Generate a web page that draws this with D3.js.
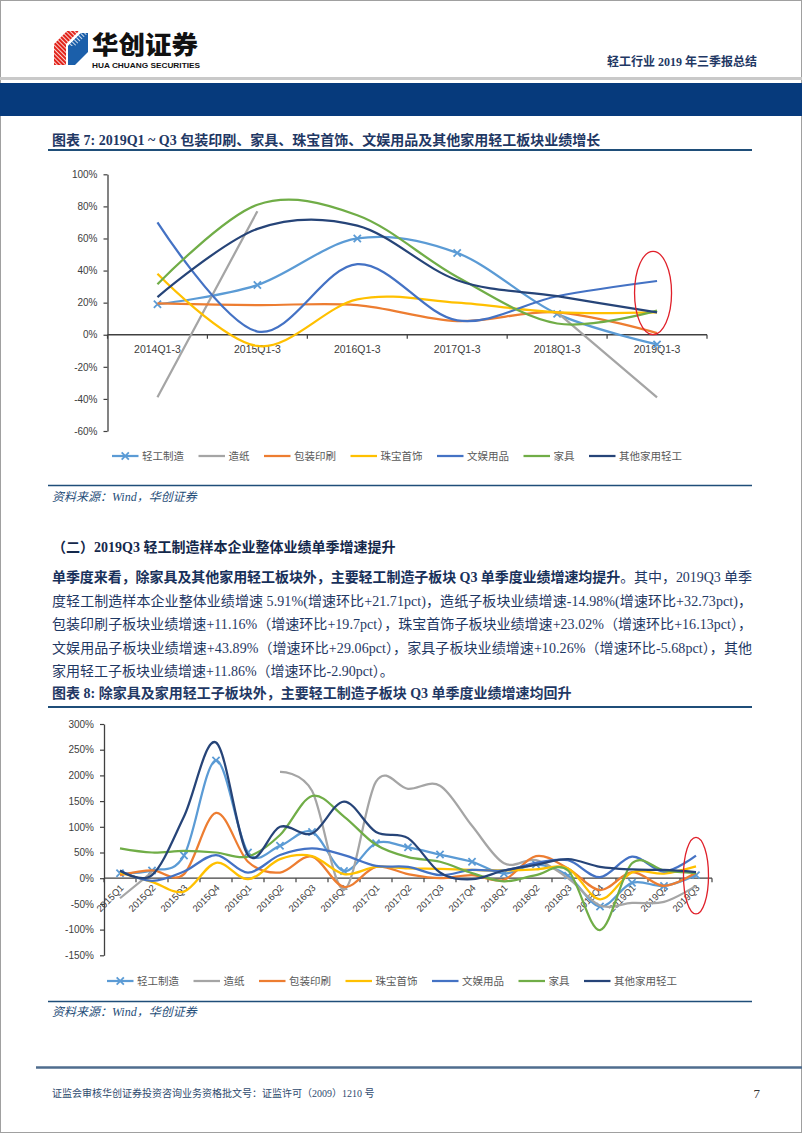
<!DOCTYPE html>
<html><head><meta charset="utf-8">
<script src="https://cdn.jsdelivr.net/npm/d3@7"></script>
<style>body{margin:0;background:#fff}svg{display:block}</style>
</head><body>
<svg id="page" width="802" height="1133"></svg>
<script>
// ---------------- DATA ----------------
const seriesNames = ["轻工制造","造纸","包装印刷","珠宝首饰","文娱用品","家具","其他家用轻工"];
const seriesColors = ["#5B9BD5","#A5A5A5","#ED7D31","#FFC000","#4472C4","#70AD47","#264478"];

// Chart 7: 2014–2019 Q1-3 cumulative growth (%)
const cats1 = ["2014Q1-3","2015Q1-3","2016Q1-3","2017Q1-3","2018Q1-3","2019Q1-3"];
const c1_qgzz = [19, 31, 60, 51, 13, -6];
const c1_zz   = [-39, 77, null, null, 14, -39];
const c1_bzys = [19.5, 18.5, 18.5, 8.5, 14, 1];
const c1_zbsh = [38, -7, 22, 20, 14, 14];
const c1_wyyp = [70, 2, 44, 9, 24, 33.5];
const c1_jj   = [31.5, 81, 74.5, 36, 7, 15];
const c1_qt   = [23.5, 66, 68, 34, 24, 14];
const yTicks1 = [-60,-40,-20,0,20,40,60,80,100];

// Chart 8: single-quarter growth (%)
const cats2 = ["2015Q1","2015Q2","2015Q3","2015Q4","2016Q1","2016Q2","2016Q3","2016Q4",
               "2017Q1","2017Q2","2017Q3","2017Q4","2018Q1","2018Q2","2018Q3","2018Q4",
               "2019Q1","2019Q2","2019Q3"];
const c2_qgzz = [9.5, 15, 44, 229, 50, 63, 90, 14, 68, 60, 46, 32, 9, 27, 5, -55, -9, -15, 6];
const c2_zz   = [-39, 12, null, null, null, 207, 170, -22, 188, 174, 180, 102, 29, 35, 0, -53, -48, -46, -15];
const c2_bzys = [6, 15, 8, 127, 32, 11, 42, -17, 22, 8, 0, 6, -3, 43, 19, -23, 12, -15, 11];
const c2_zbsh = [11, -7, -26, 30, -2, 37, 43, 8, 22, 19, 18, 16, 15, 17, 19, -41, 11, 9, 23];
const c2_wyyp = [14, -5, 13, 45, 11, 45, 58, 45, 24, 22, 6, 16, 15, 30, 35, 2, 42, 13, 44];
const c2_jj   = [58, 50, 53, 50, 42, 84, 160, 120, 65, 41, 32, 10, -6, 6, 15, -101, 29, 15, 10];
const c2_qt   = [15, 6, 120, 264, 45, 100, 87, 149, 90, 78, 11, -2, 15, 26, 37, 22, 17, 16, 12];
const yTicks2 = [-150,-100,-50,0,50,100,150,200,250,300];

// ---------------- RENDER ----------------
const svg = d3.select("#page");
const CJK = "'Noto Sans CJK SC'";
const SERIF = "'Liberation Serif','Noto Sans CJK SC'";
const SANS = "'Liberation Sans','Noto Sans CJK SC'";
const NAVY = "#1F3864";

svg.append("rect").attr("x",0.5).attr("y",0.5).attr("width",801).attr("height",1132)
  .attr("fill","#fff").attr("stroke","#a0a0a0").attr("stroke-width",1);

// ---- header / logo ----
const defs = svg.append("defs");
const pr = defs.append("pattern").attr("id","stripeR").attr("patternUnits","userSpaceOnUse")
  .attr("width",3).attr("height",3).attr("patternTransform","rotate(-45)");
pr.append("rect").attr("width",3).attr("height",3).attr("fill","#E2231A");
pr.append("rect").attr("width",0.8).attr("height",3).attr("fill","#fff");
const pb = defs.append("pattern").attr("id","stripeB").attr("patternUnits","userSpaceOnUse")
  .attr("width",3).attr("height",3).attr("patternTransform","rotate(-45)");
pb.append("rect").attr("width",3).attr("height",3).attr("fill","#1B5FAA");
pb.append("rect").attr("width",0.8).attr("height",3).attr("fill","#fff");
const logo = svg.append("g");
logo.append("polygon").attr("points","54,44 67,31 79,31 66,44 66,65 54,65").attr("fill","url(#stripeR)");
logo.append("polygon").attr("points","68,46 81,33 88,33 88,52 75,65 68,65").attr("fill","#1B5FAA");
logo.append("polygon").attr("points","68,46 81,33 88,33 75,46").attr("fill","url(#stripeB)");
logo.append("text").attr("x",92).attr("y",54).attr("font-family",CJK).attr("font-weight",900)
  .attr("font-size",25).attr("fill","#111").attr("textLength",106).attr("lengthAdjust","spacingAndGlyphs")
  .text("华创证券");
logo.append("text").attr("x",92).attr("y",68).attr("font-family","'Liberation Sans Narrow','Liberation Sans'")
  .attr("font-weight",700).attr("font-size",7).attr("fill","#111")
  .attr("textLength",108).attr("lengthAdjust","spacingAndGlyphs").text("HUA CHUANG SECURITIES");
svg.append("text").attr("x",757).attr("y",66).attr("text-anchor","end").attr("font-family",SERIF)
  .attr("font-weight",700).attr("font-size",12).attr("fill",NAVY).text("轻工行业 2019 年三季报总结");
svg.append("rect").attr("x",0).attr("y",77).attr("width",802).attr("height",3).attr("fill","#c9c9c9");
svg.append("rect").attr("x",0).attr("y",83).attr("width",802).attr("height",33).attr("fill","#063A7C");

// ---- helpers ----
function title(txt, yb, yl){
  svg.append("text").attr("x",52).attr("y",yb).attr("font-family",SERIF).attr("font-weight",700)
    .attr("font-size",14).attr("fill",NAVY).text(txt);
  svg.append("line").attr("x1",48).attr("x2",752).attr("y1",yl).attr("y2",yl)
    .attr("stroke","#1F4E79").attr("stroke-width",2);
}
function source(yl, yb){
  svg.append("line").attr("x1",48).attr("x2",752).attr("y1",yl).attr("y2",yl)
    .attr("stroke","#1F4E79").attr("stroke-width",1.6);
  svg.append("text").attr("x",52).attr("y",yb).attr("font-family",SERIF).attr("font-style","italic")
    .attr("font-size",12).attr("fill","#1F4E79").text("资料来源：Wind，华创证券");
}
function marker(g, cx, cy, col){
  const s = 3.6;
  g.append("path").attr("d",`M${cx-s},${cy-s}L${cx+s},${cy+s}M${cx-s},${cy+s}L${cx+s},${cy-s}`)
    .attr("stroke",col).attr("stroke-width",1.8).attr("fill","none");
}
function legend(yc, startX){
  const g = svg.append("g");
  let x0 = startX;
  seriesNames.forEach((n,i)=>{
    g.append("line").attr("x1",x0).attr("x2",x0+26.5).attr("y1",yc).attr("y2",yc)
      .attr("stroke",seriesColors[i]).attr("stroke-width",2.25);
    if(i===0) marker(g, x0+13.25, yc, seriesColors[0]);
    const t = g.append("text").attr("x",x0+30).attr("y",yc+3.8).attr("font-family",CJK)
      .attr("font-size",10.5).attr("fill","#595959").text(n);
    x0 += 30 + t.node().getComputedTextLength() + 14.5;
  });
}
function drawChart(opt){
  const g = svg.append("g");
  const x = d3.scaleBand().domain(opt.cats).range(opt.xRange);
  const y = d3.scaleLinear().domain(opt.yDomain).range(opt.yRange);
  const bw = x.bandwidth();
  const ya = g.append("g").attr("transform",`translate(${opt.xRange[0]},0)`)
    .call(d3.axisLeft(y).tickValues(opt.yTicks).tickFormat(d=>d+"%").tickSize(4).tickSizeOuter(0).tickPadding(6));
  ya.select(".domain").attr("stroke","#404040").attr("stroke-width",1.3);
  ya.selectAll(".tick line").attr("stroke","#404040").attr("stroke-width",1.2);
  ya.selectAll("text").attr("font-family",SANS).attr("font-size",10).attr("fill","#404040");
  const y0 = y(0);
  g.append("line").attr("x1",opt.xRange[0]).attr("x2",opt.xRange[1]).attr("y1",y0).attr("y2",y0)
    .attr("stroke","#404040").attr("stroke-width",1.3);
  const bounds = opt.cats.map(c=>x(c)).concat([x(opt.cats[opt.cats.length-1])+bw]);
  g.selectAll(".xt").data(bounds).join("line").attr("x1",d=>d).attr("x2",d=>d)
    .attr("y1",y0).attr("y2",y0+4).attr("stroke","#404040").attr("stroke-width",1.2);
  const lab = g.selectAll(".xl").data(opt.cats).join("text")
    .attr("font-family",SANS).attr("font-size",opt.labelSize).attr("fill","#404040").text(d=>d);
  if(opt.rotate){
    lab.attr("text-anchor","end").attr("dy","0.35em")
      .attr("transform",d=>`translate(${x(d)+bw/2+2},${y0+8}) rotate(-45)`);
  } else {
    lab.attr("text-anchor","middle").attr("x",d=>x(d)+bw/2).attr("y",y0+18.5);
  }
  const line = d3.line().defined(d=>d[1]!=null).x(d=>x(d[0])+bw/2).y(d=>y(d[1]))
    .curve(d3.curveCardinal.tension(0));
  opt.series.forEach((s,i)=>{
    g.append("path").datum(opt.cats.map((c,j)=>[c,s[j]])).attr("d",line)
      .attr("fill","none").attr("stroke",seriesColors[i]).attr("stroke-width",2.25)
      .attr("stroke-linejoin","round");
    if(i===0){
      opt.cats.forEach((c,j)=>{ if(s[j]!=null) marker(g, x(c)+bw/2, y(s[j]), seriesColors[0]); });
    }
  });
  const e = opt.ellipse;
  g.append("ellipse").attr("cx",x(e.cat)+bw/2+e.dx).attr("cy",y(e.value)).attr("rx",e.rx).attr("ry",e.ry)
    .attr("fill","none").attr("stroke","#E0202A").attr("stroke-width",1.3);
}

// ---- Chart 7 ----
title("图表 7: 2019Q1 ~ Q3 包装印刷、家具、珠宝首饰、文娱用品及其他家用轻工板块业绩增长", 145, 150);
drawChart({cats:cats1, series:[c1_qgzz,c1_zz,c1_bzys,c1_zbsh,c1_wyyp,c1_jj,c1_qt],
  xRange:[107.5,707], yDomain:[-60,100], yRange:[431,174.3], yTicks:yTicks1,
  labelSize:10.5, rotate:false, ellipse:{cat:"2019Q1-3", value:26, rx:18.5, ry:41.7, dx:-4}});
legend(456, 112);
source(485.5, 501);

// ---- Body text ----
svg.append("text").attr("x",52).attr("y",552).attr("font-family",SERIF).attr("font-weight",700)
  .attr("font-size",14).attr("fill","#14284B").text("（二）2019Q3 轻工制造样本企业整体业绩单季增速提升");
const para = [
  [["单季度来看，除家具及其他家用轻工板块外，主要轻工制造子板块 Q3 单季度业绩增速均提升",true],["。其中，2019Q3 单季",false]],
  [["度轻工制造样本企业整体业绩增速 5.91%(增速环比+21.71pct)，造纸子板块业绩增速-14.98%(增速环比+32.73pct)，",false]],
  [["包装印刷子板块业绩增速+11.16%（增速环比+19.7pct），珠宝首饰子板块业绩增速+23.02%（增速环比+16.13pct），",false]],
  [["文娱用品子板块业绩增速+43.89%（增速环比+29.06pct），家具子板块业绩增速+10.26%（增速环比-5.68pct），其他",false]],
  [["家用轻工子板块业绩增速+11.86%（增速环比-2.90pct）。",false]]
];
para.forEach((ln,i)=>{
  const t = svg.append("text").attr("x",52).attr("y",582+i*23.6).attr("font-family",SERIF)
    .attr("font-size",14).attr("fill",NAVY);
  ln.forEach(([s,b])=>{ t.append("tspan").attr("font-weight",b?700:400).attr("fill",b?"#17305A":NAVY).text(s); });
  if(i<4) t.attr("textLength",700).attr("lengthAdjust","spacing");
});

// ---- Chart 8 ----
title("图表 8: 除家具及家用轻工子板块外，主要轻工制造子板块 Q3 单季度业绩增速均回升", 698, 707);
drawChart({cats:cats2, series:[c2_qgzz,c2_zz,c2_bzys,c2_zbsh,c2_wyyp,c2_jj,c2_qt],
  xRange:[104,712], yDomain:[-150,300], yRange:[955.3,724], yTicks:yTicks2,
  labelSize:9.5, rotate:true, ellipse:{cat:"2019Q3", value:5, rx:12.5, ry:38.3, dx:0}});
legend(981, 107);
source(1001.5, 1016);

// ---- Footer ----
svg.append("line").attr("x1",36).attr("x2",802).attr("y1",1067.5).attr("y2",1067.5)
  .attr("stroke","#4F6D8E").attr("stroke-width",2.5);
svg.append("text").attr("x",52).attr("y",1097).attr("font-family",SERIF).attr("font-size",10)
  .attr("fill","#2E4A6E").text("证监会审核华创证券投资咨询业务资格批文号：证监许可（2009）1210 号");
svg.append("text").attr("x",760).attr("y",1098).attr("text-anchor","end").attr("font-family",SERIF)
  .attr("font-size",13).attr("fill","#333").text("7");
</script>
</body></html>
